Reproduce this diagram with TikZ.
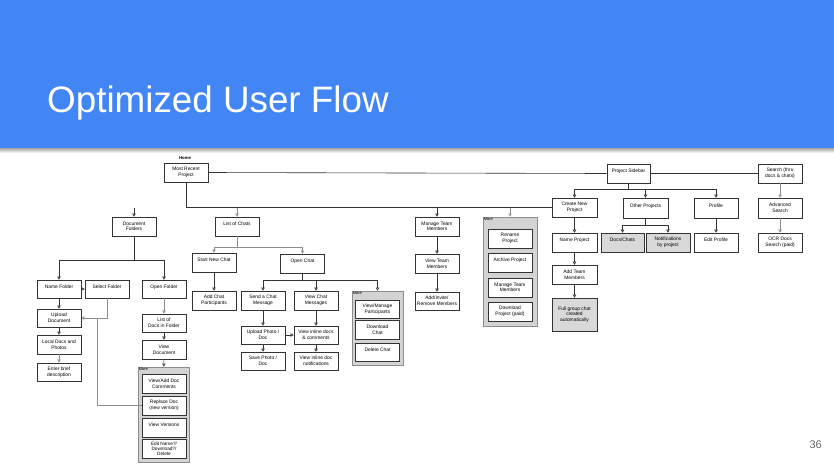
\documentclass[tikz,border=0pt]{standalone}
\usepackage{fontspec}
\setmainfont{Liberation Sans}
\usetikzlibrary{arrows.meta,shadows,calc}
\definecolor{hdr}{HTML}{4285F4}
\definecolor{grayfill}{HTML}{D9D9D9}
\definecolor{morefill}{HTML}{D3D3D3}
\tikzset{
  bx/.style={draw=black!80, line width=0.55pt, fill=white, minimum width=44pt, minimum height=19pt,
    inner sep=0.6pt, align=center, font=\fontsize{4.9}{5.6}\selectfont,
    general shadow={shadow xshift=0.5pt, shadow yshift=-0.5pt, fill=black!55}},
  gbx/.style={bx, fill=grayfill},
  t1/.style={text depth=5.5pt},
  morebox/.style={draw=black!45, line width=0.8pt, fill=morefill, inner sep=0pt},
  morelbl/.style={anchor=north west, inner sep=1pt, font=\fontsize{4}{4.4}\selectfont},
  ln/.style={draw=black!80, line width=0.6pt},
  lgray/.style={draw=black!45, line width=0.6pt},
  arr/.style={ln, -{Triangle[open, length=3pt, width=3.4pt]}},
  garr/.style={lgray, -{Triangle[open, length=3pt, width=3.4pt]}},
}
\begin{document}
\begin{tikzpicture}[x=1pt, y=-1pt]
\useasboundingbox (0,0) rectangle (834,466);
% background and header
\fill[white] (0,0) rectangle (834,466);
\fill[hdr] (0,0) rectangle (834,148);
\shade[top color=black!35, bottom color=white] (0,148) rectangle (834,153);
\node[anchor=base west, text=white, inner sep=0pt, font=\fontsize{36.8}{36.8}\selectfont] (title) at (47,112) {Optimized User Flow};
\node[anchor=base east, text=black!60, inner sep=0pt, font=\fontsize{11}{11}\selectfont] (pnum) at (822,448) {36};

% ---------- home
\node[inner sep=0pt, font=\fontsize{4.3}{4.6}\selectfont\bfseries] (home) at (185,158) {Home};
\node[bx] (mrp) at (186,172.5) {Most Recent\\Project};

% ---------- documents
\node[bx] (docf) at (134,226.5) {Document\\Folders};
\node[bx, t1, minimum height=18pt] (namef) at (59,289) {Name Folder};
\node[bx, t1, minimum height=18pt] (self) at (107,289) {Select Folder};
\node[bx, t1, minimum height=18pt] (openf) at (164,289) {Open Folder};
\node[bx, minimum height=18pt] (upload) at (59,318) {Upload\\Document};
\node[bx] (local) at (59,344.5) {Local Docs and\\Photos};
\node[bx, minimum height=18pt] (enter) at (59,372) {Enter brief\\description};
\node[bx, minimum height=18pt] (listdocs) at (164,323) {List of\\Docs in Folder};
\node[bx] (viewdoc) at (164,349.5) {View\\Document};
\node[morebox, minimum width=51pt, minimum height=95pt] (more1) at (163.5,414.5) {};
\node[morelbl] (more1l) at (more1.north west) {More};
\node[bx] (m1a) at (164,383.5) {View/Add Doc\\Comments};
\node[bx] (m1b) at (164,405.5) {Replace Doc\\(new version)};
\node[bx, t1] (m1c) at (164,427.5) {View Versions};
\node[bx, font=\fontsize{4.7}{5}\selectfont, inner sep=0.3pt] (m1d) at (164,448.5) {Edit Name?/\\Download?/\\Delete};

% ---------- chats
\node[bx, t1] (chats) at (237,226.5) {List of Chats};
\node[bx, t1] (snc) at (214,262.5) {Start New Chat};
\node[bx, t1] (openc) at (302.5,263.5) {Open Chat};
\node[bx] (addp) at (214,300.5) {Add Chat\\Participants};
\node[bx] (send) at (263,300.5) {Send a Chat\\Message};
\node[bx] (viewm) at (316,300.5) {View Chat\\Messages};
\node[morebox, minimum width=51pt, minimum height=74pt] (more2) at (377.5,328) {};
\node[morelbl] (more2l) at (more2.north west) {More};
\node[bx, minimum height=18pt] (m2a) at (377.5,309) {View/Manage\\Participants};
\node[bx] (m2b) at (377.5,329.5) {Download\\Chat};
\node[bx, t1, minimum height=18pt] (m2c) at (377.5,352) {Delete Chat};
\node[bx, minimum height=18pt] (upph) at (263,335) {Upload Photo /\\Doc};
\node[bx, minimum height=18pt] (save) at (263,361) {Save Photo /\\Doc};
\node[bx, minimum height=18pt] (vinl) at (316,335) {View inline docs\\\& comments};
\node[bx, minimum height=18pt] (vnot) at (316,361) {View inline doc\\notifications};

% ---------- team
\node[bx] (mtm) at (437,226.5) {Manage Team\\Members};
\node[bx] (vtm) at (437,263.5) {View Team\\Members};
\node[bx, minimum height=18pt] (arm) at (437,301) {Add/Invite/\\Remove Members};
\node[morebox, minimum width=54pt, minimum height=109pt] (more3) at (510,271.5) {};
\node[morelbl] (more3l) at (more3.north west) {More};
\node[bx] (m3a) at (510,238.5) {Rename\\Project};
\node[bx, t1] (m3b) at (510,262.5) {Archive Project};
\node[bx] (m3c) at (510,287.5) {Manage Team\\Members};
\node[bx] (m3d) at (510,311.5) {Download\\Project (paid)};

% ---------- project sidebar
\node[bx, t1, minimum width=43pt] (psb) at (628.5,173.5) {Project Sidebar};
\node[bx, minimum width=45pt] (cnp) at (574.5,207.5) {Create New\\Project};
\node[bx, t1, minimum width=45pt, minimum height=20pt] (othp) at (645.5,208) {Other Projects};
\node[bx, t1, minimum height=20pt] (prof) at (716,208) {Profile};
\node[gbx, t1, minimum width=43pt] (docch) at (622.5,242.5) {Docs/Chats};
\node[gbx] (notif) at (668,242.5) {Notifications\\by project};
\node[bx, t1] (editp) at (716,242.5) {Edit Profile};
\node[bx, t1, minimum width=45pt] (namep) at (574.5,242.5) {Name Project};
\node[bx, minimum width=45pt] (addtm) at (574.5,274.5) {Add Team\\Members};
\node[gbx, minimum width=45pt, minimum height=33pt] (full) at (574.5,314.5) {Full group chat\\created\\automatically};

% ---------- search
\node[bx] (search) at (780,173.5) {Search (thru\\docs \& chats)};
\node[bx, minimum height=20pt] (adv) at (780,208) {Advanced\\Search};
\node[bx] (ocr) at (780,242.5) {OCR Docs\\Search (paid)};

% ---------- connectors
\draw[ln] (mrp.east) -- (psb.west);
\draw[ln] (psb.east) -- (search.west);
\draw[ln] (mrp.south) |- (cnp.west);
\draw[arr] (docf.north |- cnp.west) -- (docf.north);
\draw[garr] (chats.north |- cnp.west) -- (chats.north);
\draw[arr] (mtm.north |- cnp.west) -- (mtm.north);
\draw[garr] (more3.north |- cnp.west) -- (more3.north);

\draw[arr] (docf.south) -- ++(0,24) -| (namef.north);
\draw[arr] (docf.south) -- ++(0,24) -| (openf.north);
\draw[arr] (namef.east) -- (self.west);
\draw[garr] (self.south) |- (upload.east);
\path (upload.east) ++(16,0) coordinate (rj);
\draw[lgray] (m1b.west) -| (rj);
\draw[arr] (namef) -- (upload);
\draw[arr] (upload) -- (local);
\draw[garr] (local) -- (enter);
\draw[garr] (openf) -- (listdocs);
\draw[arr] (listdocs) -- (viewdoc);
\draw[arr] (viewdoc) -- (more1);

\draw[garr] (chats.south) -- ++(0,11) -| (snc.north);
\draw[garr] (chats.south) -- ++(0,11) -| (openc.north);
\draw[arr] (snc) -- (addp);
\draw[arr] (openc.south) -- ++(0,7) -| (send.north);
\draw[arr] (openc.south) -- ++(0,7) -| (viewm.north);
\draw[arr] (openc.south) -- ++(0,7) -| (more2.north);
\draw[arr] (send) -- (upph);
\draw[arr] (upph) -- (save);
\draw[arr] (upph) -- (vinl);
\draw[arr] (viewm) -- (vinl);
\draw[arr] (vinl) -- (vnot);

\draw[arr] (mtm) -- (vtm);
\draw[arr] (vtm) -- (arm);

\draw[arr] (psb.south) -- ++(0,6) -| (cnp.north);
\draw[arr] (psb.south) -- ++(0,6) -| (othp.north);
\draw[arr] (psb.south) -- ++(0,6) -| (prof.north);
\draw[arr] (othp.south) -- ++(0,7) -| (docch.north);
\draw[arr] (othp.south) -- ++(0,7) -| (notif.north);
\draw[arr] (prof) -- (editp);
\draw[arr] (cnp) -- (namep);
\draw[arr] (namep) -- (addtm);
\draw[arr] (addtm) -- (full);
\draw[garr] (search) -- (adv);
\draw[garr] (adv) -- (ocr);
\end{tikzpicture}
\end{document}
